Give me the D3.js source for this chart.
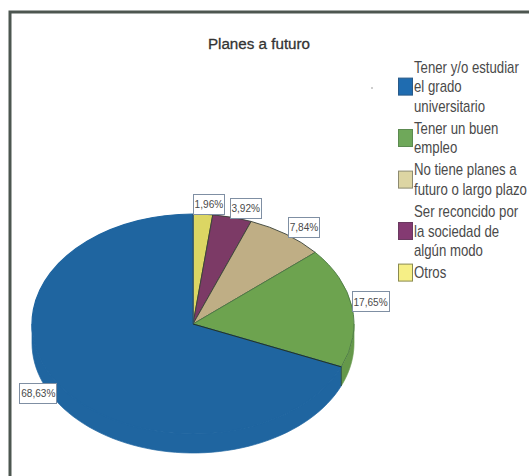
<!DOCTYPE html>
<html><head><meta charset="utf-8">
<script src="https://cdn.jsdelivr.net/npm/d3@7"></script>
<style>html,body{margin:0;padding:0;background:#fff}svg{display:block}</style>
</head><body><svg id="c" width="529" height="476"></svg>
<script>
const title = "Planes a futuro";
const values = [1.96,3.92,7.84,17.65,68.63];
const valueLabels = ["1,96%","3,92%","7,84%","17,65%","68,63%"];
const colors = ["#dcd663","#7c3a66","#bfae85","#6da34f","#1f65a0"];
const legendLines = [["Tener y/o estudiar","el grado","universitario"],["Tener un buen","empleo"],["No tiene planes a","futuro o largo plazo"],["Ser reconcido por","la sociedad de","algún modo"],["Otros"]];
const legendColors = ["#1f6cb0","#6fa85a","#ddd5a3","#843a72","#f6ef86"];
const legendStrokes = ["#2a5a88","#5c8a50","#8d8a70","#6a3a60","#8a8a50"];

const svg = d3.select("#c");
const textCol = "#4a4a4a";
svg.append("path").attr("d","M10,476V12H529").attr("fill","none").attr("stroke","#4d5650").attr("stroke-width",3);
svg.append("text").attr("x",259).attr("y",49).attr("text-anchor","middle")
  .attr("font-family","Liberation Sans").attr("font-size",15.2).attr("fill","#333").attr("stroke","#333").attr("stroke-width",.3).text(title);
svg.append("circle").attr("cx",372).attr("cy",88).attr("r",.7).attr("fill","#777");

const cx=193, cy=324, rx=161, ry=110, depth=19;
const sx=d3.scaleLinear().domain([-1,1]).range([cx-rx,cx+rx]);
const sy=d3.scaleLinear().domain([-1,1]).range([cy-ry,cy+ry]);
const arcs=d3.pie().sort(null).value(d=>d)(values);
const pt=(a,dy=0)=>[sx(Math.sin(a)),sy(-Math.cos(a))+dy];

// side wall, lower half only
arcs.forEach((d,i)=>{
  const a0=Math.max(d.startAngle,Math.PI/2), a1=Math.min(d.endAngle,Math.PI*1.5);
  if(a1<=a0) return;
  const as=d3.range(0,61).map(k=>a0+(a1-a0)*k/60);
  const top=as.map(a=>pt(a)), bot=as.map(a=>pt(a,depth)).reverse();
  const c=i===3?d3.color(colors[i]).darker(.2):colors[i];
  svg.append("path").attr("d",d3.line()(top.concat(bot))+"Z").attr("fill",c).attr("stroke",c).attr("stroke-width",.7);
});
// top face
const g=svg.append("g").attr("transform",`translate(${cx},${cy}) scale(${rx/100},${ry/100})`);
const arcGen=d3.arc().innerRadius(0).outerRadius(100);
g.selectAll("path").data(arcs).join("path").attr("d",arcGen).attr("fill",(d,i)=>colors[i])
  .attr("stroke",(d,i)=>i===4?colors[4]:i===3?"#4d7a45":"#3a4238").attr("vector-effect","non-scaling-stroke").attr("stroke-width",(d,i)=>i===4?1.2:.9);
// spoke between green and blue, and the wall edge below it
const b=arcs[4];
svg.append("path").attr("d",d3.line()([pt(b.startAngle),[cx,cy]])).attr("stroke","#26331f").attr("stroke-width",1).attr("fill","none");
svg.append("path").attr("d",d3.line()([pt(b.startAngle),pt(b.startAngle,depth)])).attr("stroke","#3b5a3a").attr("stroke-width",1).attr("fill","none");
// spoke between blue and yellow
svg.append("path").attr("d",d3.line()([[cx,cy],pt(0)])).attr("stroke","#3a4238").attr("stroke-width",.6).attr("fill","none");

// value labels, placed relative to each slice's rim point
const labelOffsets=[[5.5,-10.5],[13,-9.5],[17.5,-7.5],[18,-6],[-21,8]];
valueLabels.forEach((t,i)=>{
  const a=(arcs[i].startAngle+arcs[i].endAngle)/2, p=pt(a);
  const X=p[0]+labelOffsets[i][0], Y=p[1]+labelOffsets[i][1], w=t.length>5?37:31, h=20;
  svg.append("rect").attr("x",Math.round(X-w/2)+.5).attr("y",Math.round(Y-h/2)+.5).attr("width",w).attr("height",h).attr("fill","#fff").attr("stroke","#7f8fa3").attr("stroke-width",1);
  svg.append("text").attr("transform",`translate(${X+.5},${Y+4.5}) scale(.92,1)`).attr("text-anchor","middle").attr("font-family","Liberation Sans").attr("font-size",11).attr("fill",textCol).text(t);
});

// legend
let y=67; const lh=19.6, gap=22;
legendLines.forEach((lines,r)=>{
  const n=lines.length;
  lines.forEach((l,k)=>svg.append("text").attr("transform",`translate(414,${y+k*lh+5.5}) scale(.825,1)`).attr("font-family","Liberation Sans").attr("font-size",16).attr("fill",textCol).text(l));
  svg.append("rect").attr("x",398.5).attr("y",y+(n-1)*lh/2-8.5).attr("width",14).attr("height",17).attr("fill",legendColors[r]).attr("stroke",legendStrokes[r]).attr("stroke-width",1);
  y+=(n-1)*lh+gap;
});
</script></body></html>
